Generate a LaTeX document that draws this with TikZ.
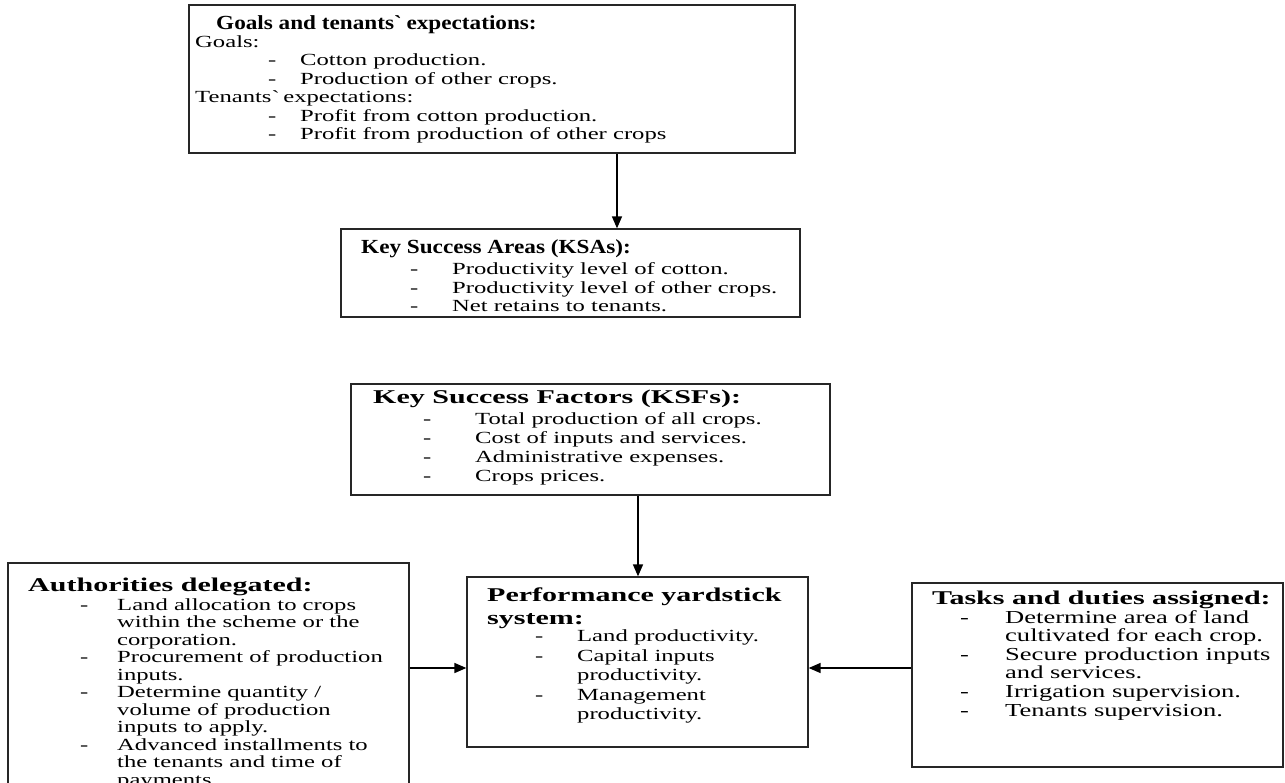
\documentclass[tikz,border=0pt]{standalone}
\usepackage{fontspec}
\setmainfont{Liberation Serif}[FakeStretch=1.45]
\newfontfamily\titlenarrow{Liberation Serif}[FakeStretch=1.16]
\newfontfamily\titlewide{Liberation Serif}[FakeStretch=1.54]
\usetikzlibrary{arrows.meta}

% indentation of the dash and of the item text in a list row
\newlength\dashoff
\newlength\dashgap
\newcommand\itm[1]{\hspace*{\dashoff}\makebox[\dashgap][l]{-}#1}
\newcommand\cont[1]{\hspace*{\dashoff}\hspace*{\dashgap}#1}
\newcommand\listsetup[4]{\fontsize{#1}{#2}\selectfont\setlength\dashoff{#3}\setlength\dashgap{#4}}

\begin{document}
\begin{tikzpicture}[x=1pt,y=-1pt,
  box/.style={draw=black!85, line width=1.3pt, rectangle, inner sep=0pt, fill=white},
  txt/.style={anchor=base west, inner sep=0pt},
  titleA/.style={txt, font={\titlenarrow\bfseries\fontsize{20}{23}\selectfont}},
  titleB/.style={txt, font={\titlewide\bfseries\fontsize{19.5}{23}\selectfont}},
  link/.style={draw=black, line width=1.5pt, -{Triangle[length=12pt,width=10pt]}}]

\fill[white] (0,0) rectangle (1285,782);
\useasboundingbox (0,0) rectangle (1285,782);

% ---------- boxes ----------
\node[box, minimum width=606pt, minimum height=148pt] (goals) at (492,79) {};
\node[box, minimum width=459pt, minimum height=88pt]  (ksa)   at (570.5,273) {};
\node[box, minimum width=479pt, minimum height=111pt] (ksf)   at (590.5,439.5) {};
\node[box, minimum width=341pt, minimum height=170pt] (pys)   at (637.5,662) {};
\node[box, minimum width=401pt, minimum height=257pt] (auth)  at (208.5,691.5) {};
\node[box, minimum width=371pt, minimum height=184pt] (tasks) at (1097.5,675) {};

% ---------- goals and expectations ----------
\node[titleA] (goalsT) at (216,29.5) {Goals and tenants\textasciigrave{} expectations:};
\node[txt, font={\listsetup{17}{18.4}{73pt}{32pt}}] (goalsB) at (195,47.5) {%
  \begin{tabular}[t]{@{}l@{}}
  Goals:\\
  \itm{Cotton production.}\\
  \itm{Production of other crops.}\\
  Tenants\textasciigrave{} expectations:\\
  \itm{Profit from cotton production.}\\
  \itm{Profit from production of other crops}
  \end{tabular}};

% ---------- key success areas ----------
\node[titleA] (ksaT) at (361,253.5) {Key Success Areas (KSAs):};
\node[txt, font={\listsetup{17}{18.5}{0pt}{42pt}}] (ksaB) at (410,274.5) {%
  \begin{tabular}[t]{@{}l@{}}
  \itm{Productivity level of cotton.}\\
  \itm{Productivity level of other crops.}\\
  \itm{Net retains to tenants.}
  \end{tabular}};

% ---------- key success factors ----------
\node[titleB] (ksfT) at (373,403.4) {Key Success Factors (KSFs):};
\node[txt, font={\listsetup{17}{19}{0pt}{52pt}}] (ksfB) at (423,424.5) {%
  \begin{tabular}[t]{@{}l@{}}
  \itm{Total production of all crops.}\\
  \itm{Cost of inputs and services.}\\
  \itm{Administrative expenses.}\\
  \itm{Crops prices.}
  \end{tabular}};

% ---------- performance yardstick system ----------
\node[titleB] (pysT) at (487,601.4) {%
  \begin{tabular}[t]{@{}l@{}}
  Performance yardstick\\
  system:
  \end{tabular}};
\node[txt, font={\listsetup{17}{19.5}{0pt}{42pt}}] (pysB) at (535,641.5) {%
  \begin{tabular}[t]{@{}l@{}}
  \itm{Land productivity.}\\
  \itm{Capital inputs}\\
  \cont{productivity.}\\
  \itm{Management}\\
  \cont{productivity.}
  \end{tabular}};

% ---------- authorities delegated ----------
\node[titleB] (authT) at (28,591) {Authorities delegated:};
\node[txt, font={\listsetup{17}{17.5}{0pt}{37pt}}] (authB) at (80,610) {%
  \begin{tabular}[t]{@{}l@{}}
  \itm{Land allocation to crops}\\
  \cont{within the scheme or the}\\
  \cont{corporation.}\\
  \itm{Procurement of production}\\
  \cont{inputs.}\\
  \itm{Determine quantity /}\\
  \cont{volume of production}\\
  \cont{inputs to apply.}\\
  \itm{Advanced installments to}\\
  \cont{the tenants and time of}\\
  \cont{payments.}
  \end{tabular}};

% ---------- tasks and duties ----------
\node[titleB] (tasksT) at (932,604) {Tasks and duties assigned:};
\node[txt, font={\listsetup{18.3}{18.6}{0pt}{45pt}}] (tasksB) at (960,623) {%
  \begin{tabular}[t]{@{}l@{}}
  \itm{Determine area of land}\\
  \cont{cultivated for each crop.}\\
  \itm{Secure production inputs}\\
  \cont{and services.}\\
  \itm{Irrigation supervision.}\\
  \itm{Tenants supervision.}
  \end{tabular}};

% ---------- connectors ----------
\coordinate (col1) at (617,0);
\coordinate (col2) at (638,0);
\coordinate (row1) at (0,668);
\draw[link] (goals.south -| col1) -- (ksa.north -| col1);
\draw[link] (ksf.south -| col2) -- (pys.north -| col2);
\draw[link] (auth.east |- row1) -- (pys.west |- row1);
\draw[link] (tasks.west |- row1) -- (pys.east |- row1);
\end{tikzpicture}
\end{document}
